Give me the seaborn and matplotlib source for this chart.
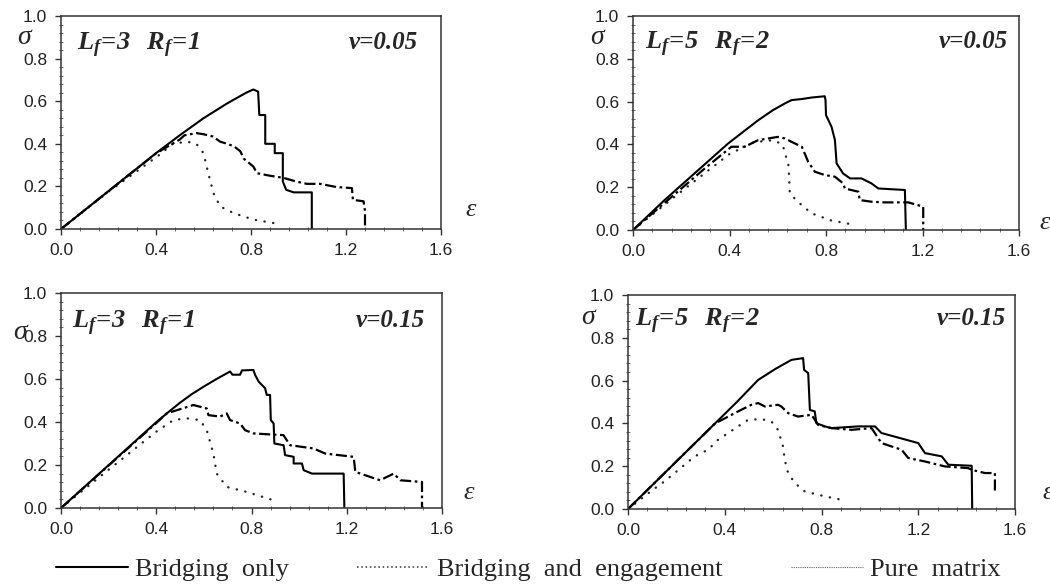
import numpy as np
import pandas as pd
import matplotlib
matplotlib.use("Agg")
import matplotlib.pyplot as plt
from matplotlib.lines import Line2D
import seaborn as sns

# ---------------- data ----------------
# Panel A: Lf=3 Rf=1, v=0.05
a_bridge_x = [0, 0.2, 0.4, 0.5, 0.6, 0.7, 0.78, 0.81, 0.83, 0.835, 0.86, 0.86, 0.90, 0.90, 0.934, 0.934, 0.948, 0.98, 1.056, 1.056]
a_bridge_y = [0, 0.178, 0.356, 0.44, 0.52, 0.59, 0.64, 0.655, 0.645, 0.535, 0.535, 0.40, 0.40, 0.356, 0.356, 0.223, 0.184, 0.172, 0.172, 0]
a_engage_x = [0, 0.4, 0.5, 0.52, 0.57, 0.6, 0.64, 0.67, 0.70, 0.73, 0.755, 0.77, 0.81, 0.825, 0.88, 0.937, 0.99, 1.035, 1.09, 1.16, 1.225, 1.229, 1.274, 1.28, 1.28]
a_engage_y = [0, 0.355, 0.42, 0.44, 0.45, 0.445, 0.434, 0.41, 0.40, 0.387, 0.365, 0.33, 0.293, 0.262, 0.25, 0.24, 0.223, 0.212, 0.212, 0.197, 0.192, 0.137, 0.13, 0.083, 0]
a_matrix_x = [0, 0.2, 0.417, 0.47, 0.53, 0.57, 0.60, 0.62, 0.642, 0.67, 0.726, 0.81, 0.895]
a_matrix_y = [0, 0.175, 0.35, 0.40, 0.41, 0.40, 0.356, 0.262, 0.168, 0.106, 0.075, 0.044, 0.028]

# Panel B: Lf=5 Rf=2, v=0.05
b_bridge_x = [0, 0.131, 0.394, 0.519, 0.58, 0.629, 0.657, 0.70, 0.74, 0.795, 0.798, 0.80, 0.823, 0.837, 0.844, 0.871, 0.90, 0.947, 0.988, 1.017, 1.127, 1.131]
b_bridge_y = [0, 0.14, 0.404, 0.513, 0.56, 0.591, 0.607, 0.612, 0.619, 0.625, 0.607, 0.537, 0.482, 0.42, 0.311, 0.264, 0.241, 0.241, 0.218, 0.194, 0.187, 0]
b_engage_x = [0, 0.3, 0.408, 0.463, 0.519, 0.60, 0.63, 0.657, 0.70, 0.726, 0.754, 0.795, 0.837, 0.871, 0.878, 0.934, 0.94, 0.989, 1.044, 1.141, 1.203, 1.203]
b_engage_y = [0, 0.29, 0.389, 0.389, 0.42, 0.435, 0.428, 0.412, 0.389, 0.319, 0.272, 0.257, 0.249, 0.218, 0.194, 0.179, 0.14, 0.132, 0.129, 0.129, 0.109, 0]
b_matrix_x = [0, 0.2, 0.4, 0.5, 0.58, 0.62, 0.645, 0.65, 0.685, 0.74, 0.82, 0.90]
b_matrix_y = [0, 0.18, 0.355, 0.41, 0.42, 0.40, 0.30, 0.17, 0.13, 0.078, 0.045, 0.028]

# Panel C: Lf=3 Rf=1, v=0.15
c_bridge_x = [0, 0.402, 0.45, 0.5, 0.55, 0.6, 0.65, 0.71, 0.72, 0.752, 0.76, 0.808, 0.815, 0.83, 0.857, 0.864, 0.878, 0.881, 0.893, 0.896, 0.935, 0.941, 0.977, 0.977, 1.012, 1.019, 1.054, 1.187, 1.19]
c_bridge_y = [0, 0.401, 0.445, 0.49, 0.53, 0.565, 0.598, 0.635, 0.62, 0.62, 0.64, 0.642, 0.619, 0.588, 0.557, 0.526, 0.526, 0.409, 0.393, 0.30, 0.292, 0.246, 0.238, 0.207, 0.207, 0.176, 0.16, 0.16, 0]
c_engage_x = [0, 0.40, 0.444, 0.556, 0.584, 0.612, 0.619, 0.668, 0.696, 0.71, 0.752, 0.773, 0.808, 0.85, 0.934, 0.962, 1.06, 1.11, 1.229, 1.236, 1.34, 1.397, 1.425, 1.516, 1.516]
c_engage_y = [0, 0.395, 0.44, 0.479, 0.471, 0.463, 0.432, 0.425, 0.44, 0.409, 0.393, 0.362, 0.347, 0.344, 0.339, 0.292, 0.277, 0.253, 0.238, 0.168, 0.129, 0.16, 0.129, 0.121, 0]
c_matrix_x = [0, 0.2, 0.40, 0.472, 0.528, 0.584, 0.612, 0.64, 0.654, 0.696, 0.78, 0.892]
c_matrix_y = [0, 0.178, 0.355, 0.409, 0.417, 0.409, 0.362, 0.253, 0.16, 0.098, 0.075, 0.036]

# Panel D: Lf=5 Rf=2, v=0.15
d_bridge_x = [0, 0.18, 0.36, 0.45, 0.538, 0.61, 0.676, 0.724, 0.728, 0.745, 0.752, 0.772, 0.779, 0.814, 0.841, 0.952, 1.021, 1.048, 1.20, 1.228, 1.297, 1.324, 1.421, 1.423]
d_bridge_y = [0, 0.20, 0.40, 0.50, 0.603, 0.655, 0.697, 0.705, 0.65, 0.635, 0.463, 0.456, 0.401, 0.386, 0.378, 0.386, 0.386, 0.355, 0.308, 0.261, 0.246, 0.207, 0.202, 0]
d_engage_x = [0, 0.36, 0.455, 0.51, 0.538, 0.566, 0.62, 0.634, 0.662, 0.703, 0.759, 0.786, 0.841, 0.924, 1.007, 1.048, 1.131, 1.159, 1.228, 1.31, 1.407, 1.421, 1.476, 1.517, 1.517]
d_engage_y = [0, 0.40, 0.456, 0.487, 0.495, 0.479, 0.487, 0.479, 0.448, 0.432, 0.44, 0.393, 0.378, 0.37, 0.378, 0.308, 0.277, 0.238, 0.222, 0.199, 0.191, 0.183, 0.168, 0.168, 0.075]
d_matrix_x = [0, 0.097, 0.152, 0.193, 0.234, 0.276, 0.331, 0.372, 0.414, 0.455, 0.497, 0.552, 0.593, 0.62, 0.641, 0.648, 0.662, 0.69, 0.731, 0.814, 0.897]
d_matrix_y = [0, 0.085, 0.13, 0.168, 0.207, 0.246, 0.277, 0.323, 0.355, 0.386, 0.417, 0.42, 0.409, 0.37, 0.292, 0.23, 0.168, 0.121, 0.082, 0.059, 0.04]

panel_params = ["$L_f\\!=\\!3\\;\\;\\;R_f\\!=\\!1$", "$L_f\\!=\\!5\\;\\;\\;R_f\\!=\\!2$",
                "$L_f\\!=\\!3\\;\\;\\;R_f\\!=\\!1$", "$L_f\\!=\\!5\\;\\;\\;R_f\\!=\\!2$"]
panel_nu = ["\u03bd=0.05", "\u03bd=0.05", "\u03bd=0.15", "\u03bd=0.15"]
x_ticks = [0.0, 0.4, 0.8, 1.2, 1.6]
y_ticks = [0.0, 0.2, 0.4, 0.6, 0.8, 1.0]
legend_labels = ["Bridging  only", "Bridging  and  engagement", "Pure  matrix"]

# ---------------- styling ----------------
sns.set_theme(style="ticks")
plt.rcParams['font.family'] = ['Liberation Sans', 'DejaVu Sans']
plt.rcParams['mathtext.fontset'] = 'custom'
plt.rcParams['mathtext.rm'] = 'Liberation Serif:bold:italic'
plt.rcParams['mathtext.it'] = 'Liberation Serif:bold:italic'
plt.rcParams['mathtext.bf'] = 'Liberation Serif:bold:italic'

fig = plt.figure(figsize=(10.5, 5.86), dpi=100)

rects = [
    (61/1050, 1-229/586, 380/1050, 213/586),
    (633/1050, 1-230/586, 386/1050, 214/586),
    (61/1050, 1-508/586, 381/1050, 215/586),
    (628/1050, 1-509/586, 387/1050, 214/586),
]
data_sets = [
    (a_bridge_x, a_bridge_y, a_engage_x, a_engage_y, a_matrix_x, a_matrix_y),
    (b_bridge_x, b_bridge_y, b_engage_x, b_engage_y, b_matrix_x, b_matrix_y),
    (c_bridge_x, c_bridge_y, c_engage_x, c_engage_y, c_matrix_x, c_matrix_y),
    (d_bridge_x, d_bridge_y, d_engage_x, d_engage_y, d_matrix_x, d_matrix_y),
]
param_pos = [(0.042, 0.93), (0.03, 0.935), (0.029, 0.925), (0.018, 0.944)]
nu_pos = [(0.94, 0.93), (0.97, 0.935), (0.955, 0.925), (0.976, 0.944)]
sigma_pos = [(-0.115, 0.90), (-0.11, 0.90), (-0.125, 0.815), (-0.12, 0.897)]
eps_pos = [(1.063, 0.09), (1.054, 0.035), (1.055, 0.07), (1.07, 0.075)]

for i, (rect, ds) in enumerate(zip(rects, data_sets)):
    ax = fig.add_axes(rect)
    bx, by, ex, ey, mx, my = ds
    sns.lineplot(x=mx, y=my, ax=ax, color='#222222', linewidth=1.7, sort=False,
                 estimator=None, linestyle=(0, (0.1, 3.6)), dash_capstyle='round')
    sns.lineplot(x=ex, y=ey, ax=ax, color='black', linewidth=1.6, sort=False,
                 estimator=None, linestyle=(0, (5, 1.6, 1.2, 1.6)))
    sns.lineplot(x=bx, y=by, ax=ax, color='black', linewidth=1.5, sort=False,
                 estimator=None)
    ax.set_xlim(0, 1.6)
    ax.set_ylim(0, 1.0)
    ax.set_xticks(x_ticks)
    ax.set_yticks(y_ticks)
    ax.set_xticklabels([f"{t:.1f}" for t in x_ticks])
    ax.set_yticklabels([f"{t:.1f}" for t in y_ticks])
    ax.set_xticks(np.arange(0, 1.61, 0.08), minor=True)
    ax.set_yticks(np.arange(0, 1.01, 0.04), minor=True)
    ax.tick_params(axis='both', which='major', direction='out', length=4, width=1,
                   color='#333333', labelsize=12.5, labelcolor='#222222', pad=6)
    ax.tick_params(axis='both', which='minor', direction='inout', length=2.5, width=0.6,
                   color='#555555')
    ax.set_xlabel('')
    ax.set_ylabel('')
    for s in ax.spines.values():
        s.set_visible(True)
        s.set_color('#333333')
        s.set_linewidth(1.1)
    ax.text(*param_pos[i], panel_params[i], transform=ax.transAxes, ha='left', va='top',
            fontsize=19)
    ax.text(*nu_pos[i], panel_nu[i], transform=ax.transAxes, ha='right', va='top',
            fontsize=18, family='Liberation Serif', fontweight='bold', style='italic')
    ax.text(*sigma_pos[i], "\u03c3", transform=ax.transAxes, ha='left', va='center',
            fontsize=20, family=['Liberation Serif', 'DejaVu Serif'], style='italic')
    ax.text(*eps_pos[i], "\u03b5", transform=ax.transAxes, ha='left', va='center',
            fontsize=19, family=['Liberation Serif', 'DejaVu Serif'], style='italic')

handles = [
    Line2D([], [], color='black', linewidth=1.5),
    Line2D([], [], color='#333333', linewidth=1.1, linestyle=(0, (1, 1.8))),
    Line2D([], [], color='#666666', linewidth=0.8, linestyle=(0, (1, 1))),
]
fig.legend(handles, legend_labels, loc='center', bbox_to_anchor=(0.503, 0.028), ncol=3,
           frameon=False, prop={'family': 'Liberation Serif', 'size': 19},
           handlelength=2.73, handletextpad=0.27, columnspacing=2.6)

fig.savefig("out.png", dpi=100, facecolor='white')
